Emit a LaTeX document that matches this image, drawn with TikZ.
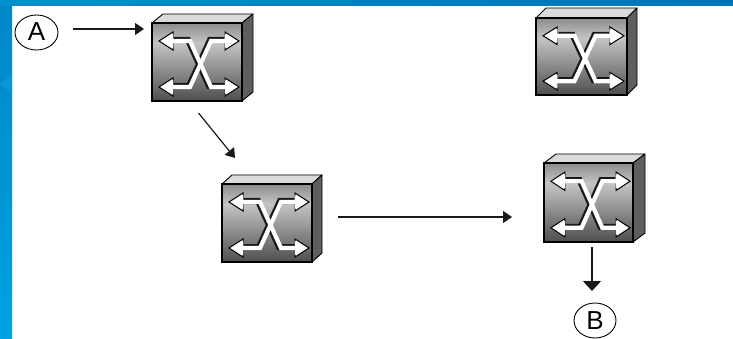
\documentclass[tikz,border=0pt]{standalone}
\usepackage{fontspec}
\setmainfont{Liberation Sans}
\usetikzlibrary{arrows.meta,shapes.geometric}
\definecolor{bluetop}{HTML}{0074B8}
\definecolor{bluetopl}{HTML}{0090CC}
\definecolor{bluemid}{HTML}{0087C6}
\definecolor{bluebot}{HTML}{00A2E2}
\definecolor{bluelight}{HTML}{0A96D2}
\definecolor{facedk}{HTML}{4E4E4E}
\definecolor{facemd}{HTML}{C4C4C4}
\definecolor{facetp}{HTML}{8C8C8C}
\definecolor{sidegr}{HTML}{5E5E5E}
\definecolor{topgr}{HTML}{DADADA}
\pgfdeclareverticalshading{swface}{100bp}{color(0bp)=(facedk); color(25bp)=(facedk); color(62bp)=(facemd); color(75bp)=(facetp); color(100bp)=(facetp)}
\tikzset{
  swnode/.style={rectangle,draw=black,line width=1.6pt,inner sep=0pt,outer sep=0pt,shading=swface},
  swtop/.style={draw=black,line width=0.9pt,fill=topgr,line join=round},
  swside/.style={draw=black,line width=0.9pt,fill=sidegr,line join=round},
  xblack/.style={draw=black!90,line width=6pt,line join=miter},
  xwhite/.style={draw=white,line width=4.2pt,line join=miter},
  xhead/.style={draw=black,line width=1pt,fill=white,line join=miter},
  endpoint/.style={ellipse,draw=black,line width=0.9pt,inner sep=0pt,outer sep=0pt,font=\fontsize{26}{26}\selectfont},
  link/.style={draw=black!90,line width=1.2pt,-{Triangle[length=9pt,width=12pt]}},
  linkbig/.style={draw=black!90,line width=1.2pt,-{Triangle[length=10pt,width=18pt]}}
}
% name, left, top, width, height, back dx, back dy
\newcommand{\swbox}[7]{%
  \path[swtop] (#2,#3) -- ++(#6,-#7) -- ++(#4,0) -- ++(-#6,#7) -- cycle;
  \path[swside] (#2+#4,#3) -- ++(#6,-#7) -- ++(0,#5) -- ++(-#6,#7) -- cycle;
  \node[swnode,minimum width=#4pt,minimum height=#5pt,anchor=north west] (#1) at (#2,#3) {};
  \begin{scope}[shift={(#2,#3)},xscale=#4/90,yscale=#5/78]
    \path[xhead] (7,18) -- (21,9) -- (21,27) -- cycle;
    \path[xhead] (87,18) -- (73,9) -- (73,27) -- cycle;
    \path[xhead] (7,64) -- (21,55) -- (21,73) -- cycle;
    \path[xhead] (87,64) -- (73,55) -- (73,73) -- cycle;
    \path[xblack] (22,17) -- (36,17) -- (57,63) -- (73,63);
    \path[xblack] (72,17) -- (58,17) -- (37,63) -- (22,63);
    \path[xwhite] (19,18) -- (38,18) -- (59,64) -- (75,64);
    \path[xwhite] (75,18) -- (59,18) -- (38,64) -- (19,64);
    \path[draw=white,fill=white] (10,18) -- (21,11.5) -- (21,24.5) -- cycle;
    \path[draw=white,fill=white] (84,18) -- (73,11.5) -- (73,24.5) -- cycle;
    \path[draw=white,fill=white] (10,64) -- (21,57.5) -- (21,70.5) -- cycle;
    \path[draw=white,fill=white] (84,64) -- (73,57.5) -- (73,70.5) -- cycle;
  \end{scope}
}
\begin{document}
\begin{tikzpicture}[x=1pt,y=-1pt]
  \useasboundingbox (0,0) rectangle (733,339);
  % background
  \fill[white] (0,0) rectangle (733,339);
  \path[shade,top color=bluemid,bottom color=bluebot] (0,0) rectangle (12,339);
  \path[shade,left color=bluetopl,right color=bluetop] (0,0) rectangle (733,6);
  \fill[bluelight] (0,84) -- (12,74) -- (12,94) -- cycle;
  % switches
  \swbox{sa}{152}{23}{90}{78}{11}{9}
  \swbox{sb}{222}{184}{90}{78}{10}{9}
  \swbox{sc}{536}{18}{91}{77}{10}{10}
  \swbox{sd}{544}{163}{89}{79}{12}{9}
  % end points
  \node[endpoint,minimum width=43pt,minimum height=35pt] (a) at (36.5,32.5) {\raisebox{2pt}{A}};
  \node[endpoint,minimum width=42pt,minimum height=35pt] (b) at (595,320.5) {B};
  % connectors
  \draw[link] ([shift={(15,-3.5)}]a.east) -- ([shift={(-8,-33)}]sa.west);
  \draw[link] ([shift={(1.5,12)}]sa.south) -- ([shift={(-32,-26)}]sb.north);
  \draw[link] ([shift={(26,-6)}]sb.east) -- ([shift={(-32,14.5)}]sd.west);
  \draw[linkbig] ([shift={(3.5,5)}]sd.south) -- ([shift={(-3,-12)}]b.north);
\end{tikzpicture}
\end{document}
